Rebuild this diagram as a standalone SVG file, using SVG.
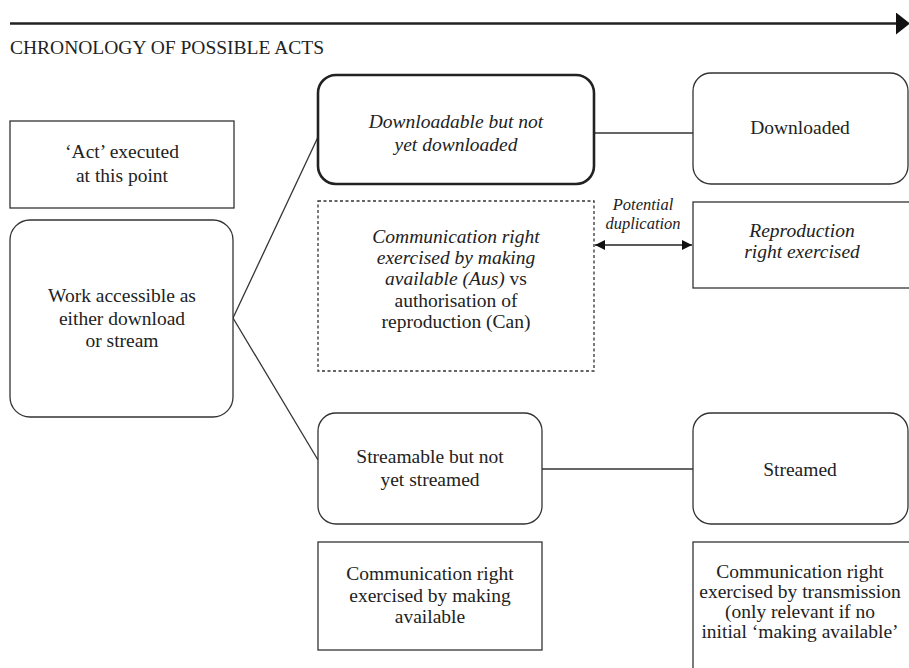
<svg xmlns="http://www.w3.org/2000/svg" width="909" height="668" viewBox="0 0 909 668">
<style>
  .box { fill: #fff; stroke: #333; stroke-width: 1.3; }
  .thick { stroke: #222; stroke-width: 2.6; }
  .dash { stroke-dasharray: 3 2.5; }
  .conn { fill: none; stroke: #333; stroke-width: 1.3; }
  text { font-family: "Liberation Serif", "Times New Roman", serif; font-size: 19.5px; fill: #222; }
  .c { text-anchor: middle; }
  .i { font-style: italic; }
  .n { font-style: normal; }
  .lbl { font-size: 16.5px; font-style: italic; }
</style>
<defs>
  <marker id="timeHead" viewBox="0 0 14 22" refX="0" refY="11" markerWidth="14" markerHeight="22" markerUnits="userSpaceOnUse" orient="auto">
    <path d="M0,0 L14,11 L0,22 Z" fill="#111"/>
  </marker>
  <marker id="dupHead" viewBox="0 0 10 10" refX="10" refY="5" markerWidth="10" markerHeight="10" markerUnits="userSpaceOnUse" orient="auto-start-reverse">
    <path d="M0,0 L10,5 L0,10 Z" fill="#111"/>
  </marker>
</defs>
<rect width="909" height="668" fill="#fff"/>

<g id="timeline">
  <line x1="10" y1="23.5" x2="896" y2="23.5" stroke="#222" stroke-width="2.6" marker-end="url(#timeHead)"/>
  <text x="10" y="54">CHRONOLOGY OF POSSIBLE ACTS</text>
</g>

<g id="connectors">
  <path class="conn" d="M233,318 L318,137"/>
  <path class="conn" d="M233,318 L318,460"/>
  <path class="conn" d="M594,133 L693,133"/>
  <path class="conn" d="M542,469 L693,469"/>
  <line x1="595" y1="245" x2="692" y2="245" stroke="#222" stroke-width="1.6" marker-start="url(#dupHead)" marker-end="url(#dupHead)"/>
  <text class="c lbl" x="643" y="210">Potential</text>
  <text class="c lbl" x="643" y="229">duplication</text>
</g>

<g id="act-note">
  <rect class="box" x="10" y="121" width="224" height="87"/>
  <text class="c" x="122" y="158">‘Act’ executed</text>
  <text class="c" x="122" y="182">at this point</text>
</g>

<g id="work">
  <rect class="box" x="10" y="220" width="223" height="197" rx="20"/>
  <text class="c" x="122" y="302">Work accessible as</text>
  <text class="c" x="122" y="324.5">either download</text>
  <text class="c" x="122" y="347">or stream</text>
</g>

<g id="downloadable">
  <rect class="box thick" x="318" y="75" width="276" height="109" rx="18"/>
  <text class="c i" x="456" y="128">Downloadable but not</text>
  <text class="c i" x="456" y="151">yet downloaded</text>
</g>

<g id="downloaded">
  <rect class="box" x="693" y="73" width="215" height="111" rx="18"/>
  <text class="c" x="800" y="134">Downloaded</text>
</g>

<g id="communication-making-available-aus">
  <rect class="box dash" x="318" y="201" width="276" height="170"/>
  <text class="c i" x="456" y="243">Communication right</text>
  <text class="c i" x="456" y="264">exercised by making</text>
  <text class="c" x="456" y="285"><tspan class="i">available (Aus)</tspan><tspan class="n"> vs</tspan></text>
  <text class="c" x="456" y="307">authorisation of</text>
  <text class="c" x="456" y="328">reproduction (Can)</text>
</g>

<g id="reproduction">
  <rect class="box" x="693" y="202" width="222" height="86"/>
  <text class="c i" x="802" y="237">Reproduction</text>
  <text class="c i" x="802" y="258">right exercised</text>
</g>

<g id="streamable">
  <rect class="box" x="318" y="413" width="224" height="111" rx="18"/>
  <text class="c" x="430" y="463">Streamable but not</text>
  <text class="c" x="430" y="486">yet streamed</text>
</g>

<g id="streamed">
  <rect class="box" x="693" y="413" width="215" height="111" rx="18"/>
  <text class="c" x="800" y="476">Streamed</text>
</g>

<g id="communication-making-available">
  <rect class="box" x="318" y="542" width="224" height="108"/>
  <text class="c" x="430" y="580">Communication right</text>
  <text class="c" x="430" y="602">exercised by making</text>
  <text class="c" x="430" y="623">available</text>
</g>

<g id="communication-transmission">
  <rect class="box" x="693" y="542" width="222" height="140"/>
  <text class="c" x="800" y="578">Communication right</text>
  <text class="c" x="800" y="598">exercised by transmission</text>
  <text class="c" x="800" y="618">(only relevant if no</text>
  <text class="c" x="800" y="638">initial ‘making available’</text>
</g>
</svg>
